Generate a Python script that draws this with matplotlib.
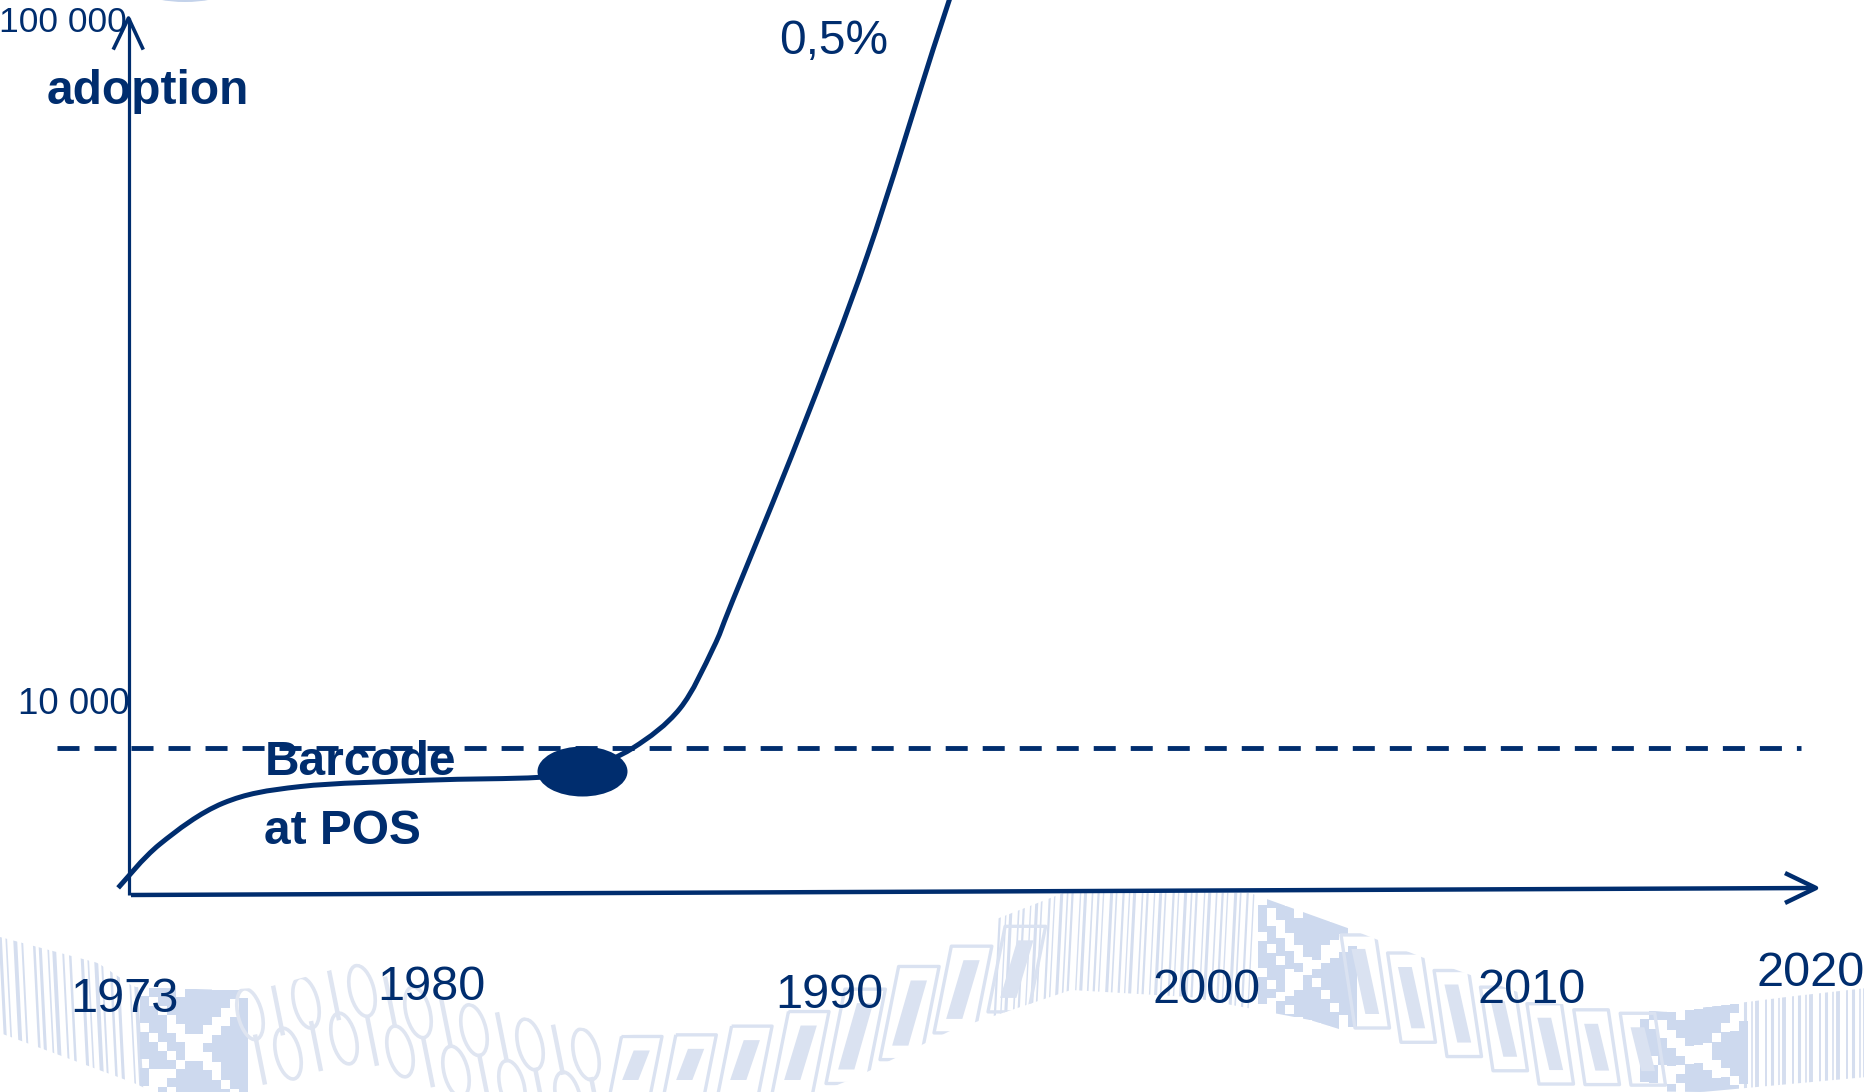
import numpy as np
import matplotlib
matplotlib.use("Agg")
import matplotlib.pyplot as plt
from matplotlib.collections import LineCollection, PatchCollection
from matplotlib.patches import Polygon, Rectangle, Ellipse, PathPatch
from matplotlib.path import Path
from matplotlib.markers import MarkerStyle
from matplotlib.transforms import Affine2D

# ---- data ----
years = [1972.67, 1973.83, 1975.59, 1977.73, 1981.26, 1984.35, 1985.57, 1986.99,
         1988.29, 1989.21, 1989.77, 1991.63, 1993.50, 1995.33, 1995.94]
adoption = [6420, 7370, 8390, 8840, 9020, 9100, 9300, 9990,
            11309, 13670, 15959, 26880, 47300, 90680, 111700]
threshold = 10000
marker_year = 1985.57
marker_value = 9280
threshold_span = [1970.97, 2019.47]
year_labels = ["1973", "1980", "1990", "2000", "2010", "2020"]
value_labels = ["100 000", "10 000"]

NAVY = "#002D6E"
W, H = 1867, 1092
plt.rcParams["font.family"] = ["Liberation Sans", "DejaVu Sans"]

fig = plt.figure(figsize=(W / 100, H / 100), dpi=100, facecolor="white")

# ---- pixel-space layer: background band, arrows and texts ----
deco = fig.add_axes([0, 0, 1, 1], zorder=0)
deco.set_xlim(0, W)
deco.set_ylim(H, 0)
deco.axis("off")

top_x = [0, 98, 134, 223, 268, 357, 446, 536, 625, 700, 774, 893, 976, 1071, 1250,
         1345, 1429, 1548, 1667, 1786, 1867]
top_y = [937, 963, 987, 990, 987, 963, 997, 1020, 1035, 1027, 1007, 957, 927, 890,
         893, 927, 960, 1003, 1012, 997, 988]
bot_x = [0, 134, 170, 800, 857, 952, 1071, 1190, 1310, 1429, 1536, 1702, 1867]
bot_y = [1033, 1083, 1100, 1100, 1077, 1030, 990, 997, 1020, 1057, 1090, 1092, 1077]


def top(x):
    return np.interp(x, top_x, top_y)


def bot(x):
    return np.interp(x, bot_x, bot_y)


xs = np.arange(0, W + 1, 4)
poly = np.column_stack([np.r_[xs, xs[::-1]], np.r_[top(xs), bot(xs)[::-1]]])
clip = PathPatch(Path(poly), transform=deco.transData, fc="none", ec="none")
deco.add_patch(clip)

STRIPE = "#D5DEEF"
BLOCK = "#CDD9EE"
BOX = "#DAE2F1"
DIGIT = "#DFE5F1"

deco.add_patch(Ellipse((185, -6), 70, 16, fc="#C3D2EA", ec="none"))


def stripes(x0, x1, tilt, steps, widths):
    segs, lw = [], []
    x = x0
    i = 0
    while x < x1:
        t, b = top(x) - 5, bot(x) + 5
        segs.append([(x, t), (x + tilt * (b - t), b)])
        lw.append(widths[i % len(widths)])
        x += steps[i % len(steps)]
        i += 1
    lc = LineCollection(segs, colors=STRIPE, linewidths=lw, zorder=1)
    deco.add_collection(lc)
    lc.set_clip_path(clip)


stripes(0, 140, 0.05, [6, 9, 7, 12, 6, 8], [2.2, 1.2, 2.8, 1.4, 1.8])
stripes(1000, 1255, -0.05, [6, 5, 8, 5, 7], [1.6, 1.0, 2.2, 1.2])
stripes(1745, W, 0.0, [7, 5, 9, 6], [2.2, 1.2, 2.8, 1.4])


def block(x0, x1, cell):
    cells = []
    width = x1 - x0
    for i, x in enumerate(np.arange(x0, x1, cell)):
        t, b = top(x), bot(x)
        height = max(b - t, 1)
        for j, y in enumerate(np.arange(t, b, cell)):
            u = (x - x0) / width
            v = (y - t) / height
            cross = abs(u - v) < 0.07 or abs(u + v - 1) < 0.07
            left = u < 0.4 and (i * 3 + j) % 4 == 0
            if not (cross or left):
                cells.append(Rectangle((x, y), cell, cell))
    pc = PatchCollection(cells, facecolor=BLOCK, edgecolor="none", zorder=1)
    deco.add_collection(pc)
    pc.set_clip_path(clip)


block(140, 240, 9)
block(1258, 1350, 9)
block(1640, 1745, 9)


def boxes(x0, x1, step, tilt):
    patches_out, patches_in = [], []
    for x in np.arange(x0, x1, step):
        t, b = top(x) + 4, bot(x) - 6
        dx = tilt * (b - t)
        w = step * 0.75
        patches_out.append(Polygon([(x + dx, t), (x + dx + w, t), (x + w, b), (x, b)]))
        patches_in.append(Polygon([(x + dx + w * .3, t + 14), (x + dx + w * .7, t + 14),
                                   (x + w * .7, b - 14), (x + w * .3, b - 14)]))
    a = PatchCollection(patches_out, facecolor="none", edgecolor=BOX, linewidth=2.4, zorder=1)
    c = PatchCollection(patches_in, facecolor=BOX, edgecolor="none", zorder=1)
    deco.add_collection(a)
    deco.add_collection(c)
    a.set_clip_path(clip)
    c.set_clip_path(clip)


boxes(610, 1000, 54, 0.2)
boxes(1355, 1640, 46, -0.15)

# faint binary pattern drawn as rings and bars
rings = []
bars = []
for row, offset in enumerate([26, 72]):
    for k in range(13):
        x = 250 + k * 28 + row * 10
        y = top(x) + offset
        if (k + row) % 2 == 0:
            rings.append(Ellipse((x, y), 24, 52, angle=-14))
        else:
            bars.append([(x - 5, y - 25), (x + 5, y + 25)])
pcr = PatchCollection(rings, facecolor="none", edgecolor=DIGIT, linewidth=2.6, zorder=1)
lcb = LineCollection(bars, colors=DIGIT, linewidths=3.2, zorder=1)
deco.add_collection(pcr)
deco.add_collection(lcb)
pcr.set_clip_path(clip)
lcb.set_clip_path(clip)

# axis arrows
deco.plot([128.5, 128.5], [895, 18], color=NAVY, lw=2.3, zorder=3, solid_capstyle="butt")
deco.plot([114, 128.5, 142.5], [48, 18, 48], color=NAVY, lw=2.6, zorder=3)
deco.plot([131, 1815], [895, 888], color=NAVY, lw=3.2, zorder=3, solid_capstyle="butt")
deco.plot([1787, 1816, 1787], [874, 888, 902], color=NAVY, lw=3.2, zorder=3)

# texts
label_pos = [(124, 1012), (431, 1000), (829, 1008), (1207, 1003), (1532, 1003), (1811, 986)]
for s, (x, y) in zip(year_labels, label_pos):
    deco.text(x, y, s, fontsize=35, color=NAVY, ha="center", va="baseline", zorder=4)
deco.text(127, 32, value_labels[0], fontsize=25.5, color=NAVY, ha="right", va="baseline", zorder=4)
deco.text(130, 714, value_labels[1], fontsize=26.5, color=NAVY, ha="right", va="baseline", zorder=4)
deco.text(47, 104, "adoption", fontsize=34.5, fontweight="bold", color=NAVY, va="baseline", zorder=4)
deco.text(265, 775, "Barcode", fontsize=34.5, fontweight="bold", color=NAVY, va="baseline", zorder=4)
deco.text(264, 844, "at POS", fontsize=34.5, fontweight="bold", color=NAVY, va="baseline", zorder=4)
deco.text(779, 54, "0,5%", fontsize=34.5, color=NAVY, va="baseline", zorder=4)

# ---- data layer: years horizontally, adoption on a log scale ----
ax = fig.add_axes([0, 0, 1, 1], zorder=1)
ax.patch.set_alpha(0)
ax.set_yscale("log")
ax.set_xlim(1969.385, 2021.30)
ax.set_ylim(10 ** 3.5275, 10 ** 5.0254)
ax.axis("off")

# smooth curve through the read points: Bezier segments on the axes' own transform
lx = np.array(years)
ly = np.log10(adoption)
verts = [(lx[0], ly[0])]
codes = [Path.MOVETO]
n = len(lx)
for i in range(n - 1):
    p0 = (lx[max(i - 1, 0)], ly[max(i - 1, 0)])
    p1 = (lx[i], ly[i])
    p2 = (lx[i + 1], ly[i + 1])
    p3 = (lx[min(i + 2, n - 1)], ly[min(i + 2, n - 1)])
    c1 = (p1[0] + (p2[0] - p0[0]) / 6, p1[1] + (p2[1] - p0[1]) / 6)
    c2 = (p2[0] - (p3[0] - p1[0]) / 6, p2[1] - (p3[1] - p1[1]) / 6)
    verts += [c1, c2, p2]
    codes += [Path.CURVE4] * 3
verts = np.array(verts)
verts[:, 1] = 10 ** verts[:, 1]
ax.add_patch(PathPatch(Path(verts, codes), fc="none", ec=NAVY, lw=3.6,
                       transform=ax.transData, capstyle="butt", joinstyle="round"))

ax.plot(threshold_span, [threshold, threshold], color=NAVY, lw=3.5,
        dashes=(22 / 4.86, 15 / 4.86), dash_capstyle="butt")

ellipse = Path.unit_circle().transformed(Affine2D().scale(1, 50 / 90))
ax.plot([marker_year], [marker_value], linestyle="none", color=NAVY,
        marker=MarkerStyle(ellipse), markersize=64.8, markeredgewidth=0)

fig.savefig("out.png", dpi=100, facecolor="white")
